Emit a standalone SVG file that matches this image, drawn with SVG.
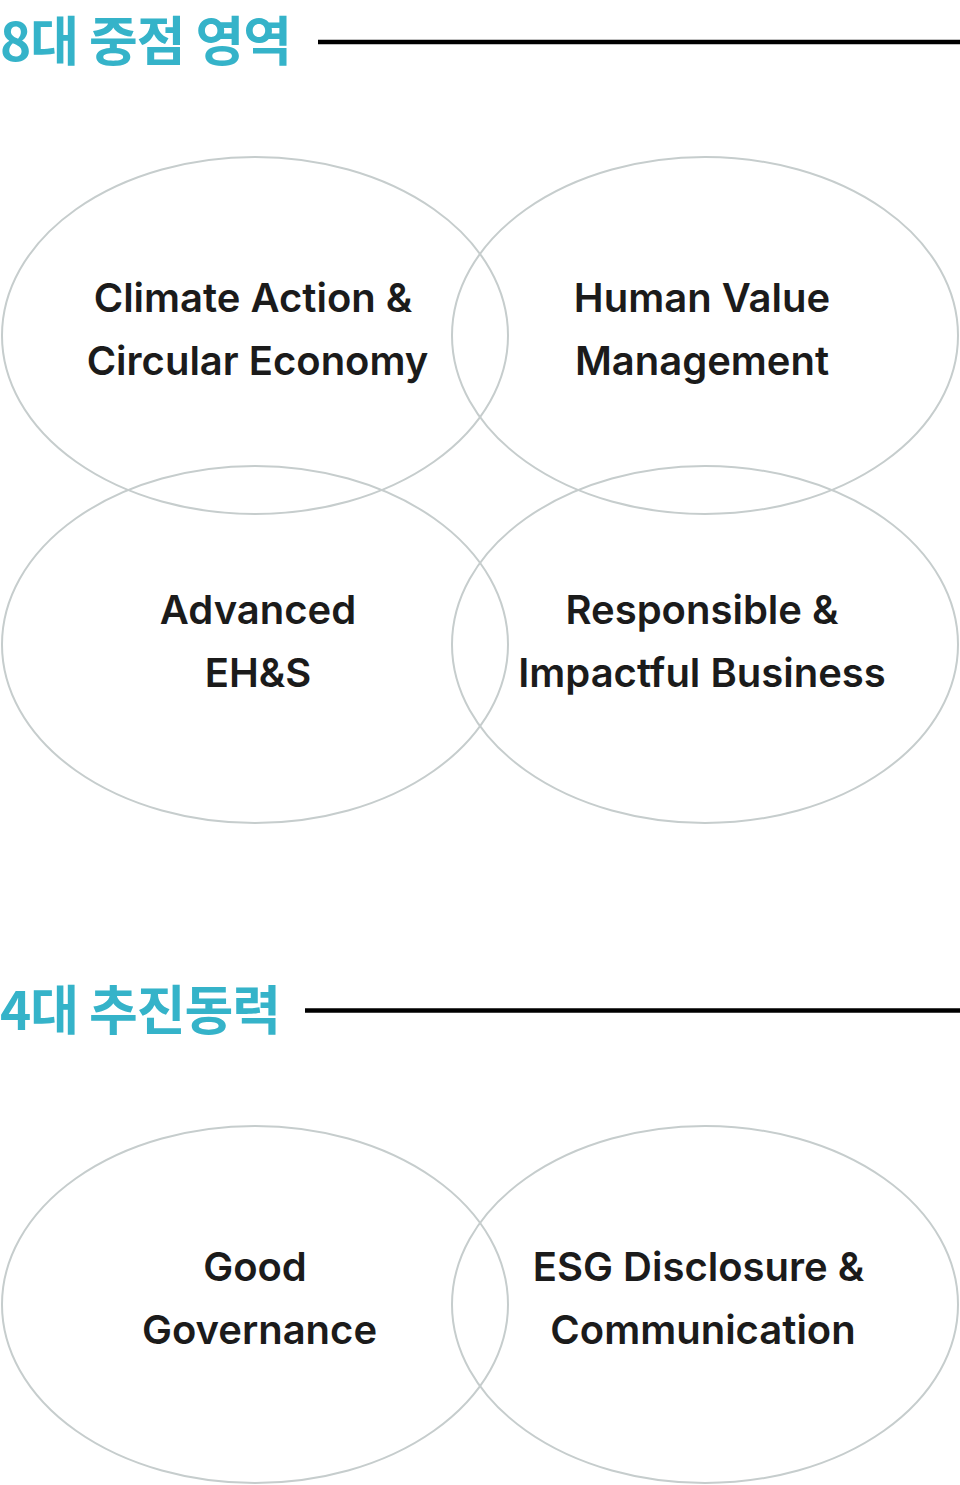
<svg xmlns="http://www.w3.org/2000/svg" width="960" height="1485" viewBox="0 0 960 1485">
<style>
.h{font-family:"Noto Sans CJK KR","Noto Sans",sans-serif;font-weight:700;font-size:53px;fill:#35b3c9;letter-spacing:-1px}
.rule{stroke:#000;stroke-width:4.5}
.c{fill:none;stroke:#c6cdcd;stroke-width:2}
.t{font-family:Inter,"Liberation Sans",sans-serif;font-weight:600;font-size:40px;fill:#1b1b1b;text-anchor:middle}
</style>
<rect width="960" height="1485" fill="#fff"/>
<g id="heading1">
<text class="h" x="0" y="61">8대 중점 영역</text>
<line class="rule" x1="318" y1="42" x2="960" y2="42"/>
</g>
<g id="heading2">
<text class="h" x="0" y="1030">4대 추진동력</text>
<line class="rule" x1="305" y1="1010.5" x2="960" y2="1010.5"/>
</g>
<g id="climate">
<ellipse class="c" cx="255" cy="335.5" rx="253" ry="178.5"/>
<text class="t" x="253" y="312">Climate Action &amp;</text>
<text class="t" x="257.5" y="374.5">Circular Economy</text>
</g>
<g id="human">
<ellipse class="c" cx="705" cy="335.5" rx="253" ry="178.5"/>
<text class="t" x="702" y="312">Human Value</text>
<text class="t" x="702" y="374.5">Management</text>
</g>
<g id="ehs">
<ellipse class="c" cx="255" cy="644.5" rx="253" ry="178.5"/>
<text class="t" x="258" y="624">Advanced</text>
<text class="t" x="258" y="686.5">EH&amp;S</text>
</g>
<g id="responsible">
<ellipse class="c" cx="705" cy="644.5" rx="253" ry="178.5"/>
<text class="t" x="702" y="624">Responsible &amp;</text>
<text class="t" x="702" y="686.5">Impactful Business</text>
</g>
<g id="governance">
<ellipse class="c" cx="255" cy="1304.5" rx="253" ry="178.5"/>
<text class="t" x="255" y="1280.5">Good</text>
<text class="t" x="259.5" y="1343.5">Governance</text>
</g>
<g id="disclosure">
<ellipse class="c" cx="705" cy="1304.5" rx="253" ry="178.5"/>
<text class="t" x="698.5" y="1280.5">ESG Disclosure &amp;</text>
<text class="t" x="703" y="1343.5">Communication</text>
</g>
<g id="connectors"></g>
</svg>
